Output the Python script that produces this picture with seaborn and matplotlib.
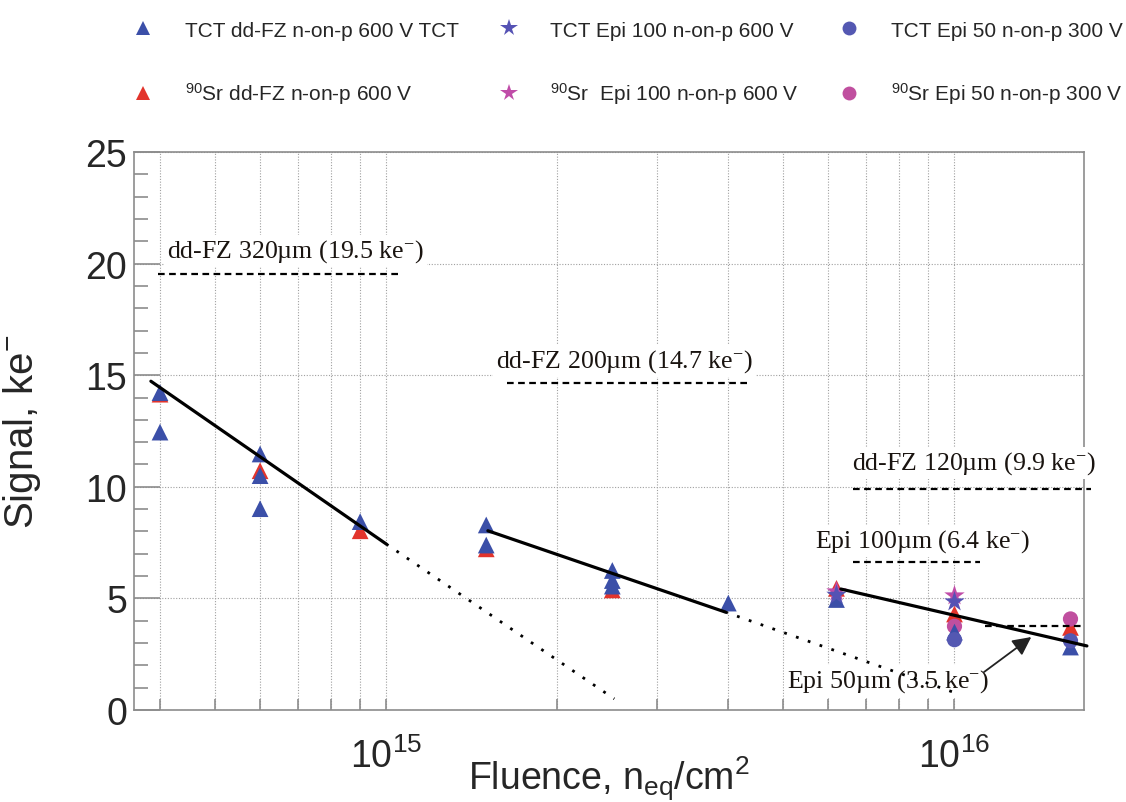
import numpy as np
import pandas as pd
import matplotlib
matplotlib.use("Agg")
import matplotlib.pyplot as plt
import matplotlib.ticker as mticker
from matplotlib.lines import Line2D
import seaborn as sns

# ---------------- data ----------------
tct_fz_x = [4e14, 4e14, 6e14, 6e14, 6e14, 9e14, 1.5e15, 1.5e15, 2.5e15, 2.5e15, 2.5e15, 4e15, 6.2e15, 1e16, 1.6e16]
tct_fz_y = [14.22, 12.45, 11.47, 10.5, 9.02, 8.44, 8.29, 7.39, 6.25, 5.8, 5.55, 4.79, 4.95, 3.49, 2.82]

sr_fz_x = [4e14, 6e14, 9e14, 1.5e15, 2.5e15, 6.2e15, 1e16, 1.6e16]
sr_fz_y = [14.15, 10.72, 8.03, 7.22, 5.38, 5.45, 4.3, 3.7]

tct_epi100_x = [6.2e15, 1e16]
tct_epi100_y = [5.15, 4.85]
sr_epi100_x = [6.2e15, 1e16]
sr_epi100_y = [5.3, 5.12]

tct_epi50_x = [1e16, 1.6e16]
tct_epi50_y = [3.15, 3.1]
sr_epi50_x = [1e16, 1.6e16]
sr_epi50_y = [3.75, 4.08]

labels = {
    "tct_fz": "TCT dd-FZ n-on-p 600 V TCT",
    "tct_e100": "TCT Epi 100 n-on-p 600 V",
    "tct_e50": "TCT Epi 50 n-on-p 300 V",
    "sr_fz": "$^{90}$Sr dd-FZ n-on-p 600 V",
    "sr_e100": "$^{90}$Sr  Epi 100 n-on-p 600 V",
    "sr_e50": "$^{90}$Sr Epi 50 n-on-p 300 V",
}

# fit lines (solid) and their dotted extrapolations
fit1_x = [3.855e14, 1.0e15]; fit1_y = [14.73, 7.44]
fit1e_x = [1.0e15, 2.52e15]; fit1e_y = [7.44, 0.5]
fit2_x = [1.51e15, 3.95e15]; fit2_y = [8.03, 4.39]
fit2e_x = [3.95e15, 1.0e16]; fit2e_y = [4.39, 0.78]
fit3_x = [6.31e15, 1.71e16]; fit3_y = [5.42, 2.87]

# expected-signal reference levels
ref_y = [19.53, 14.65, 9.9, 6.62, 3.78]
ref_xmin = [3.97e14, 1.63e15, 6.62e15, 6.62e15, 1.13e16]
ref_xmax = [1.05e15, 4.33e15, 1.74e16, 1.107e16, 1.67e16]
ref_text = ["dd-FZ 320µm (19.5 ke$^{-}$)", "dd-FZ 200µm (14.7 ke$^{-}$)",
            "dd-FZ 120µm (9.9 ke$^{-}$)", "Epi 100µm (6.4 ke$^{-}$)",
            "Epi 50µm (3.5 ke$^{-}$)"]
ref_text_x = [4.12e14, 1.56e15, 6.59e15, 5.68e15, 5.07e15]
ref_text_y = [20.3, 15.37, 10.8, 7.3, 1.03]

# ---------------- style ----------------
sns.set_style("white")
plt.rcParams["font.family"] = ["Liberation Sans", "DejaVu Sans"]
plt.rcParams["mathtext.default"] = "regular"

fig = plt.figure(figsize=(11.26, 8.03), dpi=100)
ax = fig.add_axes([134 / 1126, 1 - 711 / 803, 950 / 1126, 558 / 803])

c_blue = "#3b4fa8"
c_red = "#e2342c"
c_bstar = "#5552b4"
c_mstar = "#c04ca8"
c_bcirc = "#5458b2"
c_mcirc = "#c04f9f"

series = [
    ("sr_fz", sr_fz_x, sr_fz_y, c_red, "^", 145),
    ("sr_e100", sr_epi100_x, sr_epi100_y, c_mstar, "*", 240),
    ("sr_e50", sr_epi50_x, sr_epi50_y, c_mcirc, "o", 120),
    ("tct_fz", tct_fz_x, tct_fz_y, c_blue, "^", 145),
    ("tct_e100", tct_epi100_x, tct_epi100_y, c_bstar, "*", 240),
    ("tct_e50", tct_epi50_x, tct_epi50_y, c_bcirc, "o", 120),
]
handles = {}
for key, xs, ys, col, mk, s in series:
    df = pd.DataFrame({"x": xs, "y": ys})
    sns.scatterplot(data=df, x="x", y="y", ax=ax, color=col, marker=mk, s=s,
                    edgecolor="none", linewidth=0, zorder=4, legend=False)
    handles[key] = Line2D([], [], linestyle="none", marker=mk, color=col,
                          markeredgewidth=0, markersize=(10 if mk != "*" else 13))

ax.set_xscale("log")
ax.set_xlim(3.6e14, 1.69e16)
ax.set_ylim(0, 25)

# fit lines
for fx, fy in [(fit1_x, fit1_y), (fit2_x, fit2_y), (fit3_x, fit3_y)]:
    sns.lineplot(x=fx, y=fy, ax=ax, color="black", lw=2.3, zorder=5, clip_on=False,
                 estimator=None, sort=False)
for fx, fy in [(fit1e_x, fit1e_y), (fit2e_x, fit2e_y)]:
    sns.lineplot(x=fx, y=fy, ax=ax, color="black", lw=2.0, zorder=4.5,
                 linestyle=(0, (1, 3.5)), estimator=None, sort=False)

# reference levels
for yv, x0, x1 in zip(ref_y, ref_xmin, ref_xmax):
    ax.plot([x0, x1], [yv, yv], color="black", lw=1.6, linestyle=(0, (3, 2)),
            zorder=4.2, clip_on=False)

for t, tx, ty in zip(ref_text, ref_text_x, ref_text_y):
    ax.text(tx, ty, t, family=["Liberation Serif", "DejaVu Serif"], fontsize=18.6,
            color="#1a1410", ha="left", va="baseline", zorder=3,
            bbox=dict(facecolor="white", edgecolor="none", pad=2))

ax.annotate("", xy=(1.365e16, 3.27), xytext=(1.127e16, 1.70),
            arrowprops=dict(arrowstyle="-|>", color="#222222", lw=1.3,
                            mutation_scale=28, shrinkA=0, shrinkB=0), zorder=5)

# axes cosmetics
grey = "#8c8c8c"
for sp in ax.spines.values():
    sp.set_color(grey)
    sp.set_linewidth(1.2)
    sp.set_visible(True)

ax.yaxis.set_major_locator(mticker.MultipleLocator(5))
ax.yaxis.set_minor_locator(mticker.MultipleLocator(1))
ax.xaxis.set_major_locator(mticker.LogLocator(base=10))
ax.xaxis.set_minor_locator(mticker.LogLocator(base=10, subs=np.arange(2, 10)))
ax.xaxis.set_minor_formatter(mticker.NullFormatter())

ax.tick_params(axis="y", which="major", direction="in", length=19, width=1.2,
               color=grey, labelsize=27, pad=5, left=True, right=False)
ax.tick_params(axis="y", which="minor", direction="in", length=10, width=1.2,
               color=grey, left=True, right=False)
ax.tick_params(axis="x", which="both", direction="in", length=8, width=1.2,
               color=grey, labelsize=27, pad=20, bottom=True, top=False)

ax.grid(True, which="major", axis="y", linestyle=(0, (1, 1.5)), color="#a0a0a0", lw=0.8)
ax.grid(True, which="both", axis="x", linestyle=(0, (1, 1.5)), color="#a0a0a0", lw=0.8)
ax.set_axisbelow(True)

ax.set_xlabel("Fluence, n$_{eq}$/cm$^{2}$", fontsize=27)
ax.set_ylabel("Signal, ke$^{-}$", fontsize=29)
ax.xaxis.set_label_coords(0.5, -0.078)
ax.yaxis.set_label_coords(-0.096, 0.5)

# legend (3 columns x 2 rows)
order = ["tct_fz", "sr_fz", "tct_e100", "sr_e100", "tct_e50", "sr_e50"]
fig.legend([handles[k] for k in order], [labels[k] for k in order],
           loc="upper left", bbox_to_anchor=(122.2 / 1126, 0.973),
           bbox_transform=fig.transFigure, ncol=3, frameon=False, fontsize=15,
           handlelength=2.0, handletextpad=1.0, columnspacing=1.4,
           labelspacing=1.95, borderpad=0, borderaxespad=0)

fig.savefig("out.png", dpi=100)
